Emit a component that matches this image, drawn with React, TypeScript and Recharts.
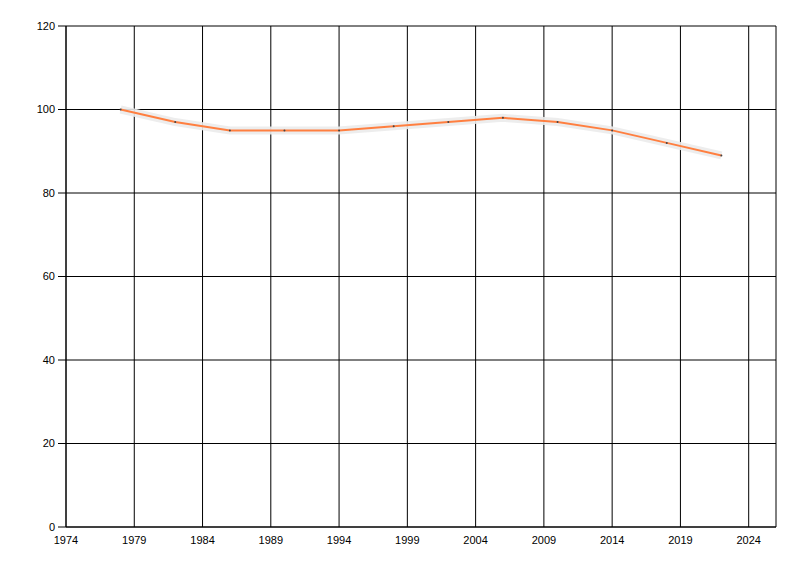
import React from 'react';
import { LineChart, Line, XAxis, YAxis, CartesianGrid } from 'recharts';

const years = [1978, 1982, 1986, 1990, 1994, 1998, 2002, 2006, 2010, 2014, 2018, 2022];
const values = [100, 97, 95, 95, 95, 96, 97, 98, 97, 95, 92, 89];
const xTicks = [1974, 1979, 1984, 1989, 1994, 1999, 2004, 2009, 2014, 2019, 2024];
const yTicks = [0, 20, 40, 60, 80, 100, 120];

const data = years.map((year, i) => ({ year, value: values[i] }));

const tickStyle = { fill: '#000', fontSize: 11, fontFamily: '"Liberation Sans", Arial, sans-serif' };

const App: React.FC = () => {
    return (
        <div style={{ position: 'absolute', left: 0, top: 0, width: 800, height: 576, background: '#fff' }}>
            <LineChart
                width={800}
                height={576}
                data={data}
                margin={{ top: 26, right: 24, left: 0, bottom: 19 }}
            >
                <CartesianGrid stroke="#000" strokeWidth={1} />
                <XAxis
                    dataKey="year"
                    type="number"
                    domain={[1974, 2026]}
                    ticks={xTicks}
                    allowDataOverflow
                    height={30}
                    tickLine={false}
                    tickSize={6}
                    tickMargin={3}
                    axisLine={{ stroke: '#000' }}
                    tick={tickStyle}
                />
                <YAxis
                    type="number"
                    domain={[0, 120]}
                    ticks={yTicks}
                    width={66}
                    tickSize={8}
                    tickMargin={3}
                    tickLine={{ stroke: '#000' }}
                    axisLine={{ stroke: '#000' }}
                    tick={tickStyle}
                />
                <Line
                    dataKey="value"
                    stroke="#ebebeb"
                    strokeOpacity={0.9}
                    strokeWidth={8}
                    strokeLinecap="butt"
                    dot={false}
                    activeDot={false}
                    isAnimationActive={false}
                />
                <Line
                    dataKey="value"
                    stroke="#ff7f40"
                    strokeWidth={2}
                    dot={{ r: 1, fill: '#444', stroke: 'none' }}
                    activeDot={false}
                    isAnimationActive={false}
                />
            </LineChart>
        </div>
    );
};

export default App;
